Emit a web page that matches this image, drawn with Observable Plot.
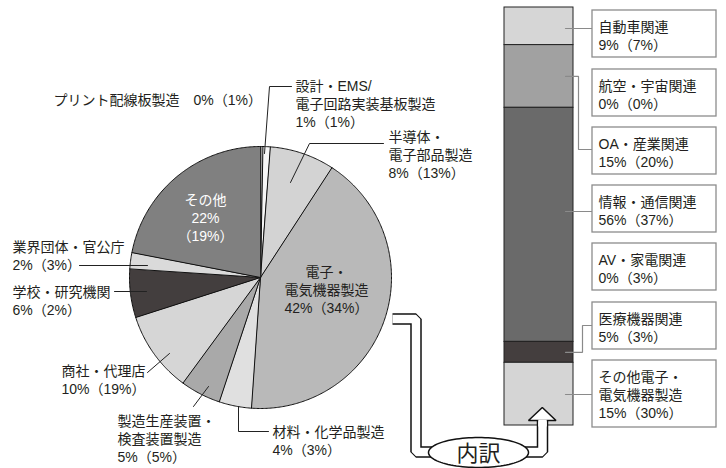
<!DOCTYPE html>
<html><head><meta charset="utf-8">
<script src="https://cdn.jsdelivr.net/npm/d3@7"></script>
<script src="https://cdn.jsdelivr.net/npm/@observablehq/plot@0.6"></script>
<style>
html,body{margin:0;padding:0;background:#fff;}
#chart{position:relative;width:726px;height:468px;overflow:hidden;}
#chart svg{position:absolute;left:0;top:0;}
</style></head><body><div id="chart"></div>
<script>
// ---------------- data ----------------
const pieCategories = ["プリント配線板製造", "設計・EMS/\n電子回路実装基板製造", "半導体・\n電子部品製造", "電子・\n電気機器製造", "材料・化学品製造", "製造生産装置・\n検査装置製造", "商社・代理店", "学校・研究機関", "業界団体・官公庁", "その他"];
const pieShare = [0, 1, 8, 42, 4, 5, 10, 6, 2, 22];          // labelled share (%)
const piePrevShare = [1, 1, 13, 34, 3, 5, 19, 2, 3, 19];     // previous (%) in parentheses
const pieSliceShare = [0.3, 0.9, 8, 42, 4, 5, 10, 6, 2, 22]; // slice sizes

const barCategories = ["自動車関連", "航空・宇宙関連", "OA・産業関連", "情報・通信関連", "AV・家電関連", "医療機器関連", "その他電子・\n電気機器製造"];
const barShare = [9, 0, 15, 56, 0, 5, 15];
const barPrevShare = [7, 0, 20, 37, 3, 3, 30];

const breakdownLabel = "内訳";

// ---------------- layout & style ----------------
const W = 726, H = 468;
const FONT = '"Liberation Sans", Arial, "Noto Sans CJK JP", sans-serif';
const INK = "#231f20";
const FS = 14, lineGap = 18;

const pieCenter = [260, 277], pieRadius = 131;
const pieFill = ["#efefef", "#f6f6f6", "#d3d3d3", "#b9b9b9", "#e0e0e0", "#a9a9a9", "#d6d6d6", "#433e3e", "#dadada", "#808080"];
const pieLabelPos = [
  {x: 53, y: 100, anchor: "start", mode: "inline"},
  {x: 295, y: 86, anchor: "start"},
  {x: 388, y: 137, anchor: "start"},
  {x: 326, y: 272, anchor: "middle"},
  {x: 272, y: 432, anchor: "start"},
  {x: 117, y: 421, anchor: "start"},
  {x: 61, y: 371, anchor: "start"},
  {x: 12, y: 292, anchor: "start"},
  {x: 12, y: 247, anchor: "start"},
  {x: 205, y: 200, anchor: "middle", mode: "split", fill: "#ffffff"}
];
const pieLeaders = [null, [[291, 86], [269, 86], [264, 153]], [[383, 143], [309, 143], [290, 182]], null,
  [[268, 431], [238, 431], [238, 406]], [[193, 406], [208, 386]], [[147, 372], [169, 353]],
  [[114, 291], [146, 291]], [[79, 265], [147, 265]], null];

const barFrame = {left: 504, right: 573, top: 7, bottom: 425};
const barFill = ["#d6d6d6", "#a3a3a3", "#a1a1a1", "#6a6a6a", "#6a6a6a", "#443e3e", "#d5d5d5"];
const boxX1 = 592, boxX2 = 716, boxTextX = 598;
const barBoxTop = [10, 69, 127, 185, 243, 302, 360];
const barLeader = [{toY: 28}, null, {elbow: 578, toY: 149}, {toY: 211}, null, {elbow: 582, toY: 325}, {toY: 394}];
const leaderX0 = 565;

const arrowPath = [[392, 318.5], [415.5, 318.5], [415.5, 451.5], [542, 451.5], [542, 420]];
const arrowHead = [[528, 420], [541.8, 407], [555.5, 420]];
const ellipse = {cx: 478, cy: 452, rx: 50, ry: 15};

// ---------------- bar (own scale) ----------------
const chart = document.getElementById("chart");
const barRows = barCategories.map((c, i) => ({cat: c, v: barShare[i], i}));
const barPlot = Plot.plot({
  width: W, height: H,
  marginLeft: barFrame.left, marginRight: W - barFrame.right,
  marginTop: barFrame.top, marginBottom: H - barFrame.bottom,
  style: {background: "transparent"},
  x: {domain: ["bar"], axis: null, padding: 0},
  y: {domain: [0, 100], axis: null},
  marks: [
    Plot.barY(barRows, Plot.stackY({x: () => "bar", y: "v", fill: d => barFill[d.i], stroke: "#222", strokeWidth: 1, order: null, reverse: true}))
  ]
});
chart.appendChild(barPlot);
const ys = barPlot.scale("y");
const yPix = v => (ys && ys.apply) ? ys.apply(v) : d3.scaleLinear([0, 100], [barFrame.bottom, barFrame.top])(v);

// ---------------- pie geometry from data ----------------
const arcs = d3.pie().sort(null).value(d => d)(pieSliceShare);
const slicePts = arcs.flatMap((a, i) => {
  const pts = [{x: pieCenter[0], y: pieCenter[1], i}];
  const n = Math.max(2, Math.ceil((a.endAngle - a.startAngle) / 0.01));
  for (let k = 0; k <= n; k++) {
    const t = a.startAngle + (a.endAngle - a.startAngle) * k / n;
    pts.push({x: pieCenter[0] + pieRadius * Math.sin(t), y: pieCenter[1] - pieRadius * Math.cos(t), i});
  }
  return pts;
});

// pie labels
const pieText = [];
pieCategories.forEach((c, i) => {
  const L = pieLabelPos[i];
  const name = c.split("\n");
  const cur = pieShare[i] + "%", prev = "（" + piePrevShare[i] + "%）";
  let lines;
  if (L.mode === "inline") lines = [c + "　" + cur + prev];
  else if (L.mode === "split") lines = [...name, cur, prev];
  else lines = [...name, cur + prev];
  lines.forEach((t, k) => pieText.push({x: L.x, y: L.y + k * lineGap, t, anchor: L.anchor, fill: L.fill || INK}));
});
const pieLeaderPts = pieLeaders.flatMap((p, i) => p ? p.map(q => ({x: q[0], y: q[1], i})) : []);

// bar labels, boxes, leaders
const boxes = barCategories.map((c, i) => {
  const n = c.split("\n").length + 1;
  return {x1: boxX1, x2: boxX2, y1: barBoxTop[i], y2: barBoxTop[i] + (n === 2 ? 47 : 67)};
});
const barText = [];
barCategories.forEach((c, i) => {
  const lines = [...c.split("\n"), barShare[i] + "%（" + barPrevShare[i] + "%）"];
  lines.forEach((t, k) => barText.push({x: boxTextX, y: barBoxTop[i] + 17 + k * lineGap, t}));
});
let cum = 0;
const barMid = barShare.map(v => { const m = 100 - (cum + v / 2); cum += v; return yPix(m); });
const barLeaderPts = barLeader.flatMap((L, i) => {
  if (!L) return [];
  if (L.elbow) return [[leaderX0, barMid[i]], [L.elbow, barMid[i]], [L.elbow, L.toY], [boxX1, L.toY]].map(q => ({x: q[0], y: q[1], i}));
  return [[leaderX0, L.toY], [boxX1, L.toY]].map(q => ({x: q[0], y: q[1], i}));
});

// ellipse outline
const ellPts = d3.range(0, 96).map(k => {
  const t = k / 96 * 2 * Math.PI;
  return {x: ellipse.cx + ellipse.rx * Math.cos(t), y: ellipse.cy + ellipse.ry * Math.sin(t)};
});
const arrowPts = arrowPath.map(q => ({x: q[0], y: q[1]}));
const headPts = arrowHead.map(q => ({x: q[0], y: q[1]}));
const capPts = [{x: 542, y: 426}, {x: 542, y: 419.2}];

const mainPlot = Plot.plot({
  width: W, height: H, margin: 0,
  style: {background: "transparent", fontFamily: FONT},
  x: {domain: [0, W], range: [0, W], axis: null},
  y: {domain: [0, H], range: [0, H], axis: null},
  marks: [
    // arrow band
    Plot.line(arrowPts, {x: "x", y: "y", stroke: "#111", strokeWidth: 11.5, strokeLinejoin: "miter", strokeLinecap: "butt"}),
    Plot.line(arrowPts, {x: "x", y: "y", stroke: "#fff", strokeWidth: 8.5, strokeLinejoin: "miter", strokeLinecap: "butt"}),
    Plot.line(headPts, {x: "x", y: "y", fill: "#fff", stroke: "#111", strokeWidth: 1.5, curve: "linear-closed", strokeLinejoin: "miter"}),
    Plot.line(capPts, {x: "x", y: "y", stroke: "#fff", strokeWidth: 8.5, strokeLinecap: "butt"}),
    Plot.line(ellPts, {x: "x", y: "y", fill: "#fff", stroke: "#111", strokeWidth: 1.5, curve: "linear-closed"}),
    Plot.text([breakdownLabel], {x: () => ellipse.cx, y: () => ellipse.cy + 1, text: d => d, fontSize: 22, fill: INK, fontFamily: FONT}),
    // pie
    Plot.line(slicePts, {x: "x", y: "y", z: "i", fill: d => pieFill[d.i], stroke: "#111", strokeWidth: 1, curve: "linear-closed", strokeLinejoin: "miter"}),
    Plot.line(pieLeaderPts, {x: "x", y: "y", z: "i", stroke: "#222", strokeWidth: 1, strokeLinejoin: "miter"}),
    Plot.text(pieText.filter(d => d.anchor === "start"), {x: "x", y: "y", text: "t", textAnchor: "start", fill: "fill", fontSize: FS, fontFamily: FONT}),
    Plot.text(pieText.filter(d => d.anchor === "middle"), {x: "x", y: "y", text: "t", textAnchor: "middle", fill: "fill", fontSize: FS, fontFamily: FONT}),
    // bar annotations
    Plot.line(barLeaderPts, {x: "x", y: "y", z: "i", stroke: "#8a8a8a", strokeWidth: 1.2, strokeLinejoin: "miter"}),
    Plot.rect(boxes, {x1: "x1", x2: "x2", y1: "y1", y2: "y2", fill: "#fff", stroke: "#8c8c8c", strokeWidth: 1.3}),
    Plot.text(barText, {x: "x", y: "y", text: "t", textAnchor: "start", fill: INK, fontSize: FS, fontFamily: FONT})
  ]
});
chart.appendChild(mainPlot);
</script></body></html>
